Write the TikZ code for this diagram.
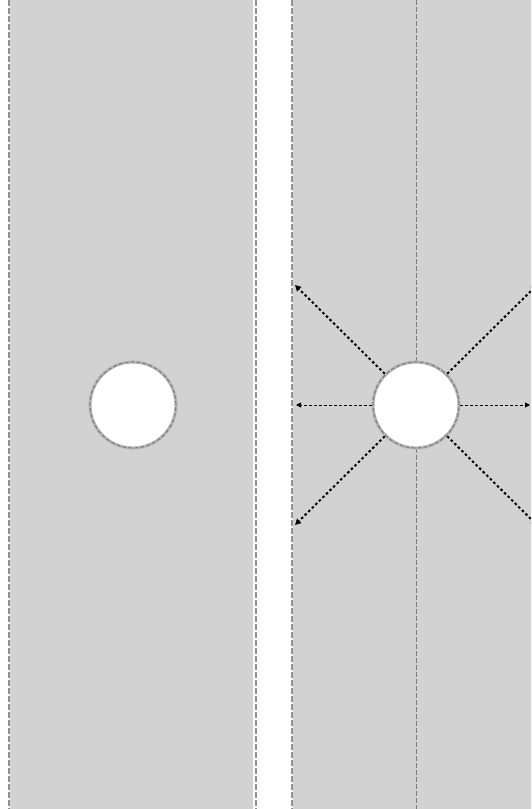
\documentclass[tikz,border=0pt]{standalone}
\usetikzlibrary{arrows.meta}
\definecolor{panelgray}{RGB}{210,210,210}
\definecolor{edgegray}{RGB}{145,145,145}
\definecolor{ringgray}{RGB}{185,185,185}
\begin{document}
\begin{tikzpicture}[x=1pt,y=-1pt,
  panel/.style={fill=panelgray,draw=none},
  edge/.style={draw=edgegray,line width=1.8pt,dash pattern=on 6pt off 2pt},
  axis/.style={draw=edgegray!85!black,line width=1pt,dash pattern=on 5pt off 2pt},
  hole/.style={circle,fill=white,minimum size=88pt,inner sep=0pt,draw=none},
  halo/.style={draw=ringgray,line width=3.2pt},
  rim/.style={draw=edgegray!90!black,line width=1.2pt,dash pattern=on 4pt off 2pt},
  diag/.style={draw=black,line width=2pt,dash pattern=on 2.5pt off 2.5pt,
    -{Triangle[length=6pt,width=6pt]}},
  horiz/.style={draw=black,line width=0.9pt,dash pattern=on 3pt off 2pt,
    -{Triangle[length=5pt,width=5pt]}}
]
\useasboundingbox (0,0) rectangle (531,809);
\clip (0,0) rectangle (531,809);
% panels
\fill[panel] (10,0) rectangle (253,809);
\fill[panel] (293,0) rectangle (560,809);
\draw[edge] (9,0) -- (9,809);
\draw[edge] (256,0) -- (256,809);
\draw[edge] (292,0) -- (292,809);
% axis line of right panel
\draw[axis] (416,0) -- (416,809);
% holes
\node[hole] (holeL) at (133,405) {};
\draw[halo] (holeL.center) circle (43pt);
\draw[rim] (holeL.center) circle (43pt);
\node[hole] (holeR) at (416,405) {};
\draw[halo] (holeR.center) circle (43pt);
\draw[rim] (holeR.center) circle (43pt);
% arrow ends
\coordinate (ul) at (295,285);
\coordinate (ll) at (295,525);
\coordinate (ur) at (537,285);
\coordinate (lr) at (537,525);
\coordinate (le) at (296,405);
\coordinate (ri) at (530,405);
\draw[diag] (holeR.135) -- (ul);
\draw[diag] (holeR.225) -- (ll);
\draw[diag] (holeR.45) -- (ur);
\draw[diag] (holeR.315) -- (lr);
\draw[horiz] (holeR.180) -- (le);
\draw[horiz] (holeR.0) -- (ri);
\end{tikzpicture}
\end{document}
